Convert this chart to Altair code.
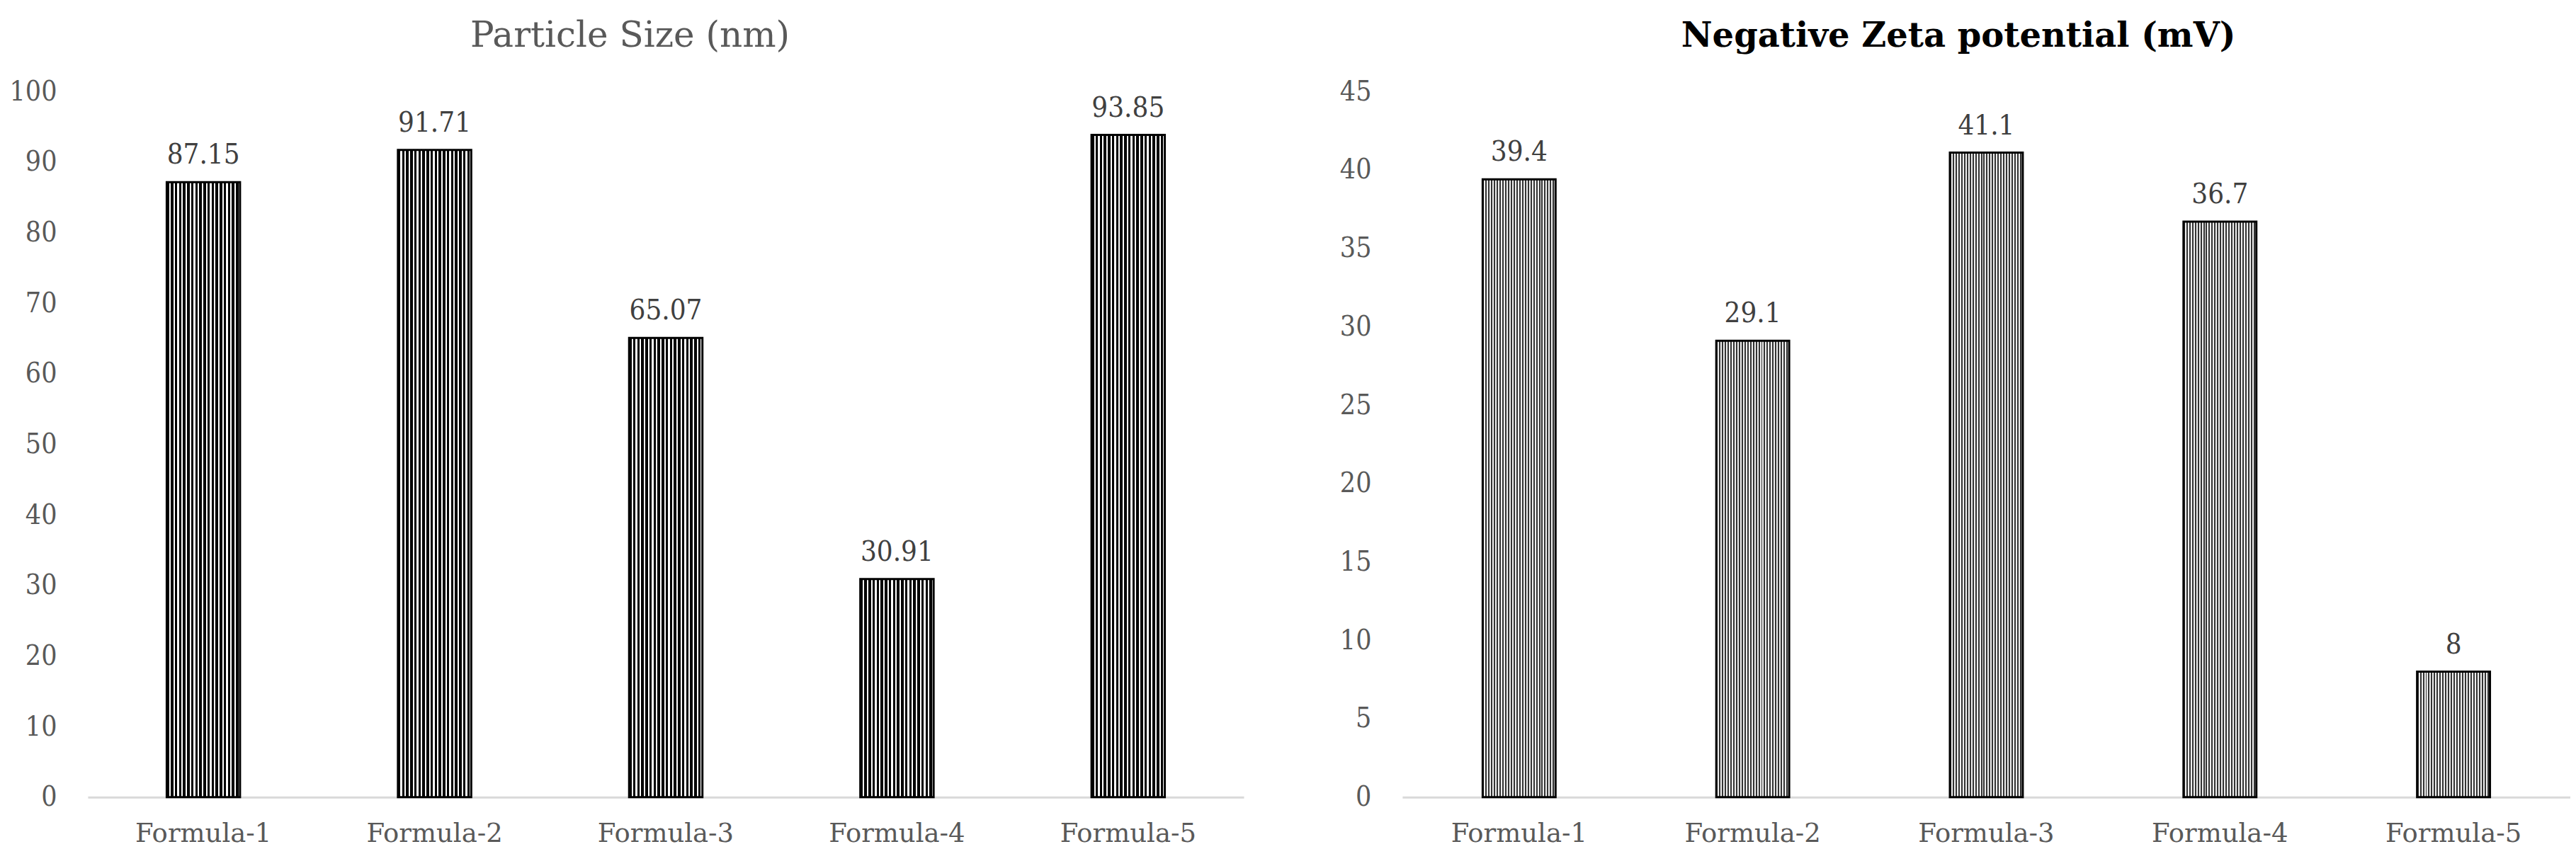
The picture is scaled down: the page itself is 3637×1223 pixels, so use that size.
import altair as alt
import pandas as pd

formulas = ["Formula-1", "Formula-2", "Formula-3", "Formula-4", "Formula-5"]
particle_size = [87.15, 91.71, 65.07, 30.91, 93.85]
zeta_potential = [39.4, 29.1, 41.1, 36.7, 8]
size_ticks = [0, 10, 20, 30, 40, 50, 60, 70, 80, 90, 100]
zeta_ticks = [0, 5, 10, 15, 20, 25, 30, 35, 40, 45]

FONT_C = "DejaVu Serif Condensed, DejaVu Serif"
FONT = "DejaVu Serif"


def stripes(dark, light, n, dark_share):
    stops = []
    for i in range(n):
        a = i / n
        b = (i + dark_share) / n
        c = (i + 1) / n
        stops += [
            {"offset": a, "color": dark}, {"offset": b, "color": dark},
            {"offset": b, "color": light}, {"offset": c, "color": light},
        ]
    return {"gradient": "linear", "x1": 0, "y1": 0, "x2": 1, "y2": 0, "stops": stops}


def panel(values, ticks, ymax, title, weight, tcolor, tsize, fill, width, pad_inner, dx):
    df = pd.DataFrame({
        "formula": formulas,
        "value": values,
        "label": [f"{v:g}" for v in values],
    })
    base = alt.Chart(df).encode(
        x=alt.X(
            "formula:N", sort=formulas,
            scale=alt.Scale(paddingInner=pad_inner, paddingOuter=pad_inner / 2),
            axis=alt.Axis(title=None, labelAngle=0, labelFont=FONT, labelFontSize=37,
                          labelColor="#595959", labelPadding=34, labelLimit=0,
                          ticks=False, tickSize=0,
                          domainColor="#d9d9d9", domainWidth=3, grid=False),
        ),
        y=alt.Y(
            "value:Q",
            scale=alt.Scale(domain=[0, ymax], nice=False, zero=True),
            axis=alt.Axis(title=None, values=ticks, labelFont=FONT_C, labelFontSize=39,
                          labelColor="#595959", labelPadding=44, ticks=False, tickSize=0,
                          domain=False, grid=False),
        ),
    )
    bars = base.mark_bar(fill=fill, stroke="black", strokeWidth=3)
    text = base.mark_text(baseline="alphabetic", dy=-26, font=FONT_C, fontSize=40,
                          color="#404040").encode(text="label:N")
    return (bars + text).properties(
        width=width, height=997,
        title=alt.TitleParams(text=title, font=FONT, fontSize=tsize, fontWeight=weight,
                              color=tcolor, anchor="middle", frame="bounds",
                              offset=34, dx=dx),
    )


left = panel(particle_size, size_ticks, 100, "Particle Size (nm)", "normal", "#595959", 50,
             stripes("#000000", "#ffffff", 18, 0.6), 1633, 0.683, 5)
right = panel(zeta_potential, zeta_ticks, 45, "Negative Zeta potential (mV)", "bold", "#000000", 48,
              stripes("#333333", "#eeeeee", 26, 0.5), 1650, 0.688, 5)

chart = alt.hconcat(left, right, spacing=135).properties(
    padding={"left": 5, "top": 18, "right": 0, "bottom": 10}
).configure_view(stroke=None)

chart.save("out.html", embed_options={"renderer": "svg", "actions": False})
